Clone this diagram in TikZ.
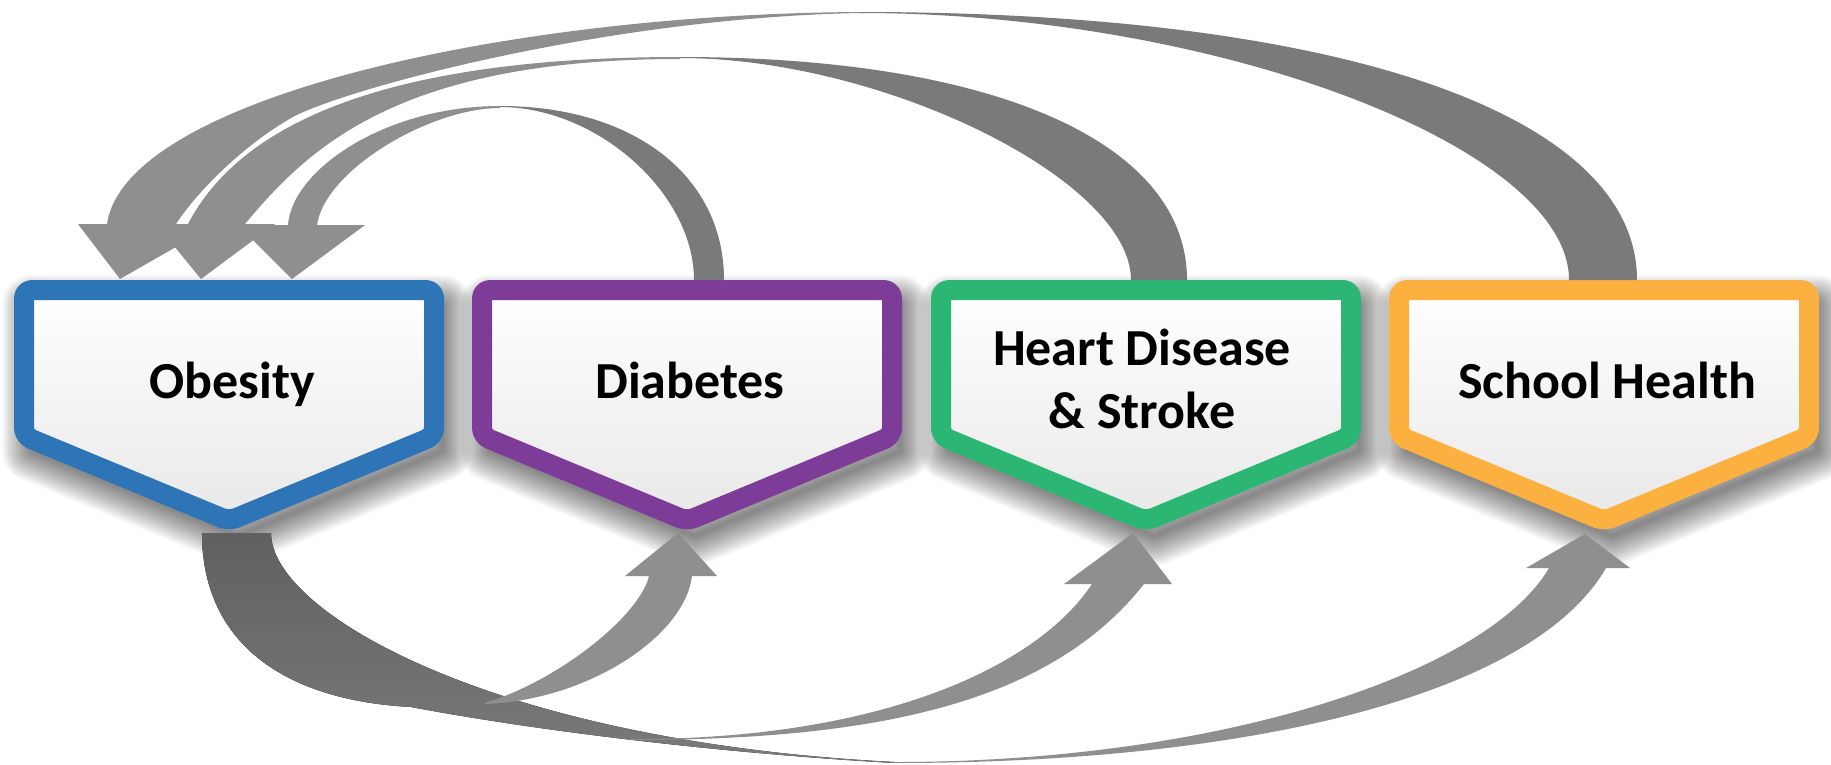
\documentclass[tikz,border=0pt]{standalone}
\usepackage{fontspec}
\setmainfont{Carlito}
\definecolor{obc}{HTML}{2E75B8}
\definecolor{dic}{HTML}{7D3C97}
\definecolor{hdc}{HTML}{2BB673}
\definecolor{shc}{HTML}{FBB040}
\definecolor{backc}{HTML}{7A7A7A}
\definecolor{frontc}{HTML}{8F8F8F}
\definecolor{startc}{HTML}{606060}
\newcommand\pentpath[1]{({#1-205},290) -- ({#1+205},290) -- ({#1+205},436) -- (#1,521) -- ({#1-205},436) -- cycle}
\newcommand\drawpent[2]{%
  \foreach \w in {3,6,...,60} {\draw[softshadow, line width=\w pt] \pentpath{#1};}
  \path[pentbox, draw=#2] \pentpath{#1};}
\begin{document}
\begin{tikzpicture}[x=1pt,y=-1pt,
  softshadow/.style={draw=black, draw opacity=.026, line join=round, shift={(8,15)}},
  pentbox/.style={line width=20pt, rounded corners=8pt, line join=round, top color=white, bottom color=black!9},
  boxtext/.style={font=\fontsize{52}{63}\selectfont\bfseries, text=black, inner sep=0pt},
  back/.style={fill=backc}, front/.style={fill=frontc}]
\useasboundingbox (0,0) rectangle (1831,764);
\fill[white] (0,0) rectangle (1831,764);
% boxes
\drawpent{229}{obc}
\drawpent{687}{dic}
\drawpent{1146}{hdc}
\drawpent{1604}{shc}
% top arrow: Diabetes -> Obesity
\fill[back] (724,280) .. controls (724,176) and (634,106) .. (500,106)
  -- (500,107) .. controls (597,107) and (694,193) .. (694,280) -- cycle;
\fill[front] (500,106) .. controls (385,106) and (292,170) .. (288,225)
  -- (238,225) -- (292,279) -- (365,225) -- (317,225)
  .. controls (325,170) and (430,108) .. (500,108) -- cycle;
% top arrow: Heart -> Obesity
\fill[back] (1187,280) .. controls (1187,142) and (994,57) .. (680,57)
  -- (680,58) .. controls (883,58) and (1131,180) .. (1131,280) -- cycle;
\fill[front] (680,57) .. controls (380,57) and (239,126) .. (188,224)
  -- (156,224) -- (201,279) -- (275,224) -- (245,224)
  .. controls (309,147) and (400,59) .. (680,59) -- cycle;
% top arrow: School -> Obesity
\fill[back] (1637,280) .. controls (1637,114) and (1342,12) .. (860,12)
  -- (860,13) .. controls (1215,13) and (1569,147) .. (1569,280) -- cycle;
\fill[front] (860,12) .. controls (500,14) and (125,100) .. (107,224)
  -- (78,224) -- (120,279) -- (216,224) -- (176,224)
  .. controls (196,193) and (243,145) .. (293,117)
  .. controls (340,91) and (600,18) .. (860,13) -- cycle;
% bottom arrows: shared back band leaving Obesity
\fill[top color=startc, bottom color=backc] (271,533) .. controls (271,613) and (495,742) .. (895,762)
  -- (895,763) .. controls (750,755) and (560,735) .. (411,707)
  .. controls (280,700) and (202,640) .. (202,533) -- cycle;
% Obesity -> Diabetes
\fill[front] (485,704) .. controls (590,700) and (685,635) .. (692,576)
  -- (717,576) -- (678,533) -- (625,576) -- (649,576)
  .. controls (640,615) and (560,680) .. (485,703) -- cycle;
% Obesity -> Heart Disease & Stroke
\fill[front] (630,740) .. controls (880,740) and (1051,702) .. (1144,584)
  -- (1172,584) -- (1133,533) -- (1064,584) -- (1092,584)
  .. controls (1037,667) and (880,740) .. (630,739) -- cycle;
% Obesity -> School Health
\fill[front] (895,763) .. controls (1245,763) and (1531,697) .. (1606,568)
  -- (1630,568) -- (1585,534) -- (1526,568) -- (1549,568)
  .. controls (1489,671) and (1225,762) .. (895,762) -- cycle;
% labels
\node[boxtext, anchor=base] (ob) at (232,398) {Obesity};
\node[boxtext, anchor=base] (dia) at (690,398) {Diabetes};
\node[boxtext, anchor=base, align=center] (hds) at (1142,428) {Heart Disease\\\& Stroke};
\node[boxtext, anchor=base] (sch) at (1607,398) {School Health};
\end{tikzpicture}
\end{document}
